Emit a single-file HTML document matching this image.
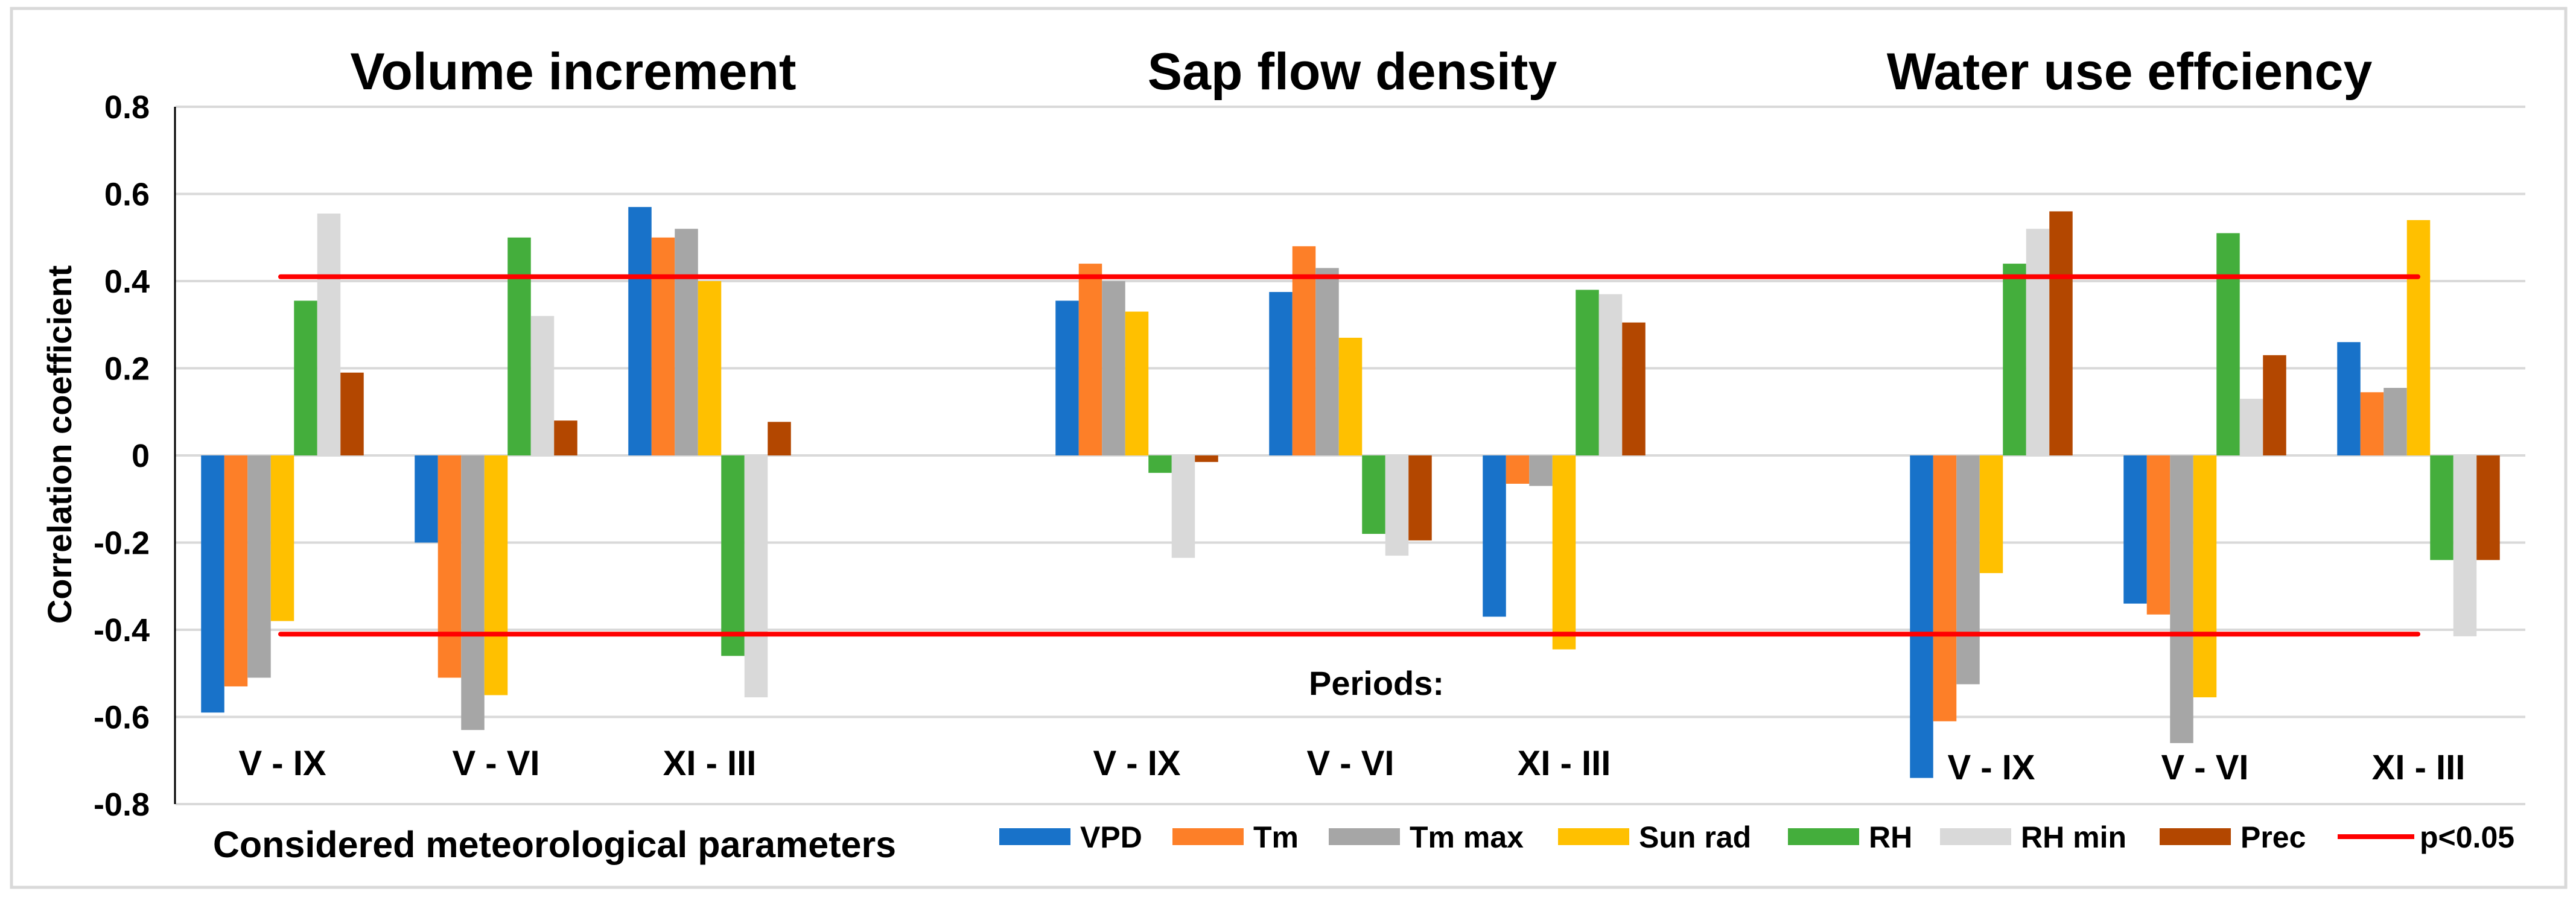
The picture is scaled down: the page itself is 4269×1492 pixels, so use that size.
<!DOCTYPE html>
<html><head><meta charset="utf-8"><style>
html,body{margin:0;padding:0;background:#fff;}
svg{display:block;font-family:"Liberation Sans",Arial,sans-serif;font-weight:bold;}
</style></head><body>
<svg id="chart" width="4269" height="1492" viewBox="0 0 4269 1492" xmlns="http://www.w3.org/2000/svg">
<rect x="19" y="14" width="4233" height="1457" fill="#fff" stroke="#d9d9d9" stroke-width="5"/>
<g id="grid"></g>
<g id="bars"></g>
<g id="ticks"></g>
<line x1="290" y1="177" x2="290" y2="1333" stroke="#000" stroke-width="3"/>
<text transform="translate(118,737) rotate(-90)" text-anchor="middle" font-size="56">Correlation coefficient</text>
<text x="950" y="148" text-anchor="middle" font-size="86">Volume increment</text>
<text x="2241" y="148" text-anchor="middle" font-size="86">Sap flow density</text>
<text x="3529" y="148" text-anchor="middle" font-size="86">Water use effciency</text>
<text x="2281" y="1152" text-anchor="middle" font-size="56">Periods:</text>
<text x="919" y="1421" text-anchor="middle" font-size="61">Considered meteorological parameters</text>
<g id="cats"></g>
<g id="legend"></g>
<g id="sig"></g>
</svg>
<script>
const categories = ["V - IX","V - VI","XI - III","","V - IX","V - VI","XI - III","","V - IX","V - VI","XI - III"];
const seriesNames = ["VPD","Tm","Tm max","Sun rad","RH","RH min","Prec"];
const vpd   = [-0.59,-0.20,0.57,null,0.355,0.375,-0.37,null,-0.74,-0.34,0.26];
const tm    = [-0.53,-0.51,0.50,null,0.44,0.48,-0.065,null,-0.61,-0.365,0.145];
const tmmax = [-0.51,-0.63,0.52,null,0.40,0.43,-0.07,null,-0.525,-0.66,0.155];
const sunrad= [-0.38,-0.55,0.40,null,0.33,0.27,-0.445,null,-0.27,-0.555,0.54];
const rh    = [0.355,0.50,-0.46,null,-0.04,-0.18,0.38,null,0.44,0.51,-0.24];
const rhmin = [0.555,0.32,-0.555,null,-0.235,-0.23,0.37,null,0.52,0.13,-0.415];
const prec  = [0.19,0.08,0.077,null,-0.015,-0.195,0.305,null,0.56,0.23,-0.24];
const yTicks = [0.8,0.6,0.4,0.2,0,-0.2,-0.4,-0.6,-0.8];
const yTickLabels = ["0.8","0.6","0.4","0.2","0","-0.2","-0.4","-0.6","-0.8"];
const sigLevel = [0.41,-0.41];

const colors = ["#1872c9","#fd7f28","#a6a6a6","#ffc000","#44ae3c","#d9d9d9","#b34700"];
const series = [vpd,tm,tmmax,sunrad,rh,rhmin,prec];
const NS="http://www.w3.org/2000/svg";
const X0=291, X1=4185, Y_TOP=177, Y_BOT=1333, VMAX=0.8, VMIN=-0.8;
const slot=(X1-X0)/categories.length, barW=38.5, groupOff=(slot-barW*7)/2;
function y(v){return Y_TOP+(VMAX-v)/(VMAX-VMIN)*(Y_BOT-Y_TOP);}
function xc(i){return X0+i*slot;}
function mk(tag,attrs,parent){const e=document.createElementNS(NS,tag);for(const k in attrs)e.setAttribute(k,attrs[k]);parent.appendChild(e);return e;}
const grid=document.getElementById('grid'),ticks=document.getElementById('ticks');
yTicks.forEach((t,i)=>{
  const l=mk('line',{x1:X0,x2:X1,y1:y(t),y2:y(t),stroke:'#d9d9d9','stroke-width':4},grid);
  
  
  const tx=mk('text',{x:248,y:y(t)+19,'text-anchor':'end','font-size':54},ticks);
  tx.textContent=yTickLabels[i];
  
  
});
const bars=document.getElementById('bars');
series.forEach((s,si)=>{
  s.forEach((v,ci)=>{
    if(v===null)return;
    const x=xc(ci)+groupOff+si*barW;
    const y0=y(0),y1=y(v);
    const r=mk('rect',{x:x,y:Math.min(y0,y1),width:barW,height:Math.abs(y1-y0),fill:colors[si]},bars);
    
    
  });
});
const cats=document.getElementById('cats');
categories.forEach((c,i)=>{
  if(!c)return;
  const t=mk('text',{x:xc(i)+slot/2,y:(i>=8?1292:1285),'text-anchor':'middle','font-size':58},cats);
  t.textContent=c;
  
  
});
const sig=document.getElementById('sig');
sigLevel.forEach(v=>{
  const l=mk('line',{x1:465,x2:4007,y1:y(v),y2:y(v),stroke:'#ff0000','stroke-width':8,'stroke-linecap':'round'},sig);
  
  
});
const legend=document.getElementById('legend');
const legX=[1656,1943,2202,2582,2963,3215,3579];
seriesNames.forEach((n,i)=>{
  const r=mk('rect',{x:legX[i],y:1373,width:118,height:28,fill:colors[i]},legend);
  
  
  const t=mk('text',{x:legX[i]+134,y:1405,'font-size':50},legend);
  t.textContent=n;
  
  
});
const ll=mk('line',{x1:3874,x2:4001,y1:1387,y2:1387,stroke:'#ff0000','stroke-width':8},legend);


const lt=mk('text',{x:4010,y:1405,'font-size':50},legend);
lt.textContent='p<0.05';


</script>
</body></html>
